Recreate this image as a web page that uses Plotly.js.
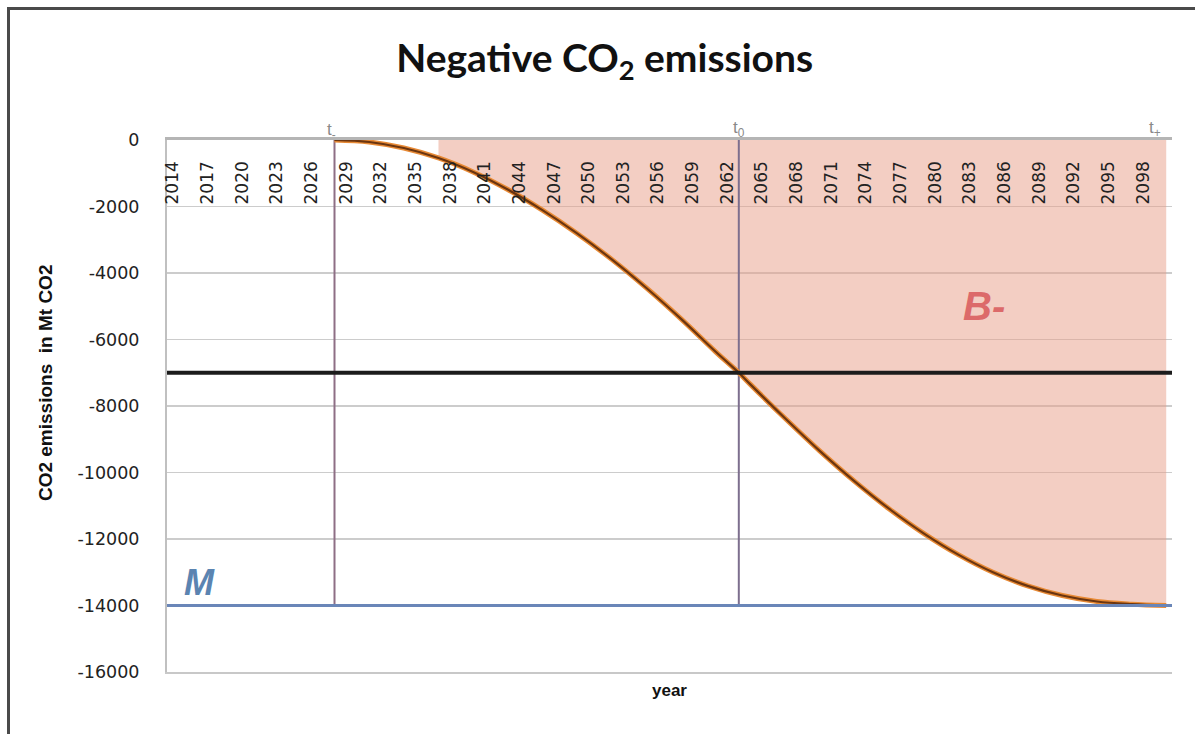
<!DOCTYPE html>
<html>
<head>
<meta charset="utf-8">
<script src="https://cdn.plot.ly/plotly-3.0.1.min.js"></script>
<style>
  html, body { margin: 0; padding: 0; background: #ffffff; }
  #wrap { position: relative; width: 1195px; height: 734px; overflow: hidden; }
  #chart { width: 1195px; height: 734px; }
  #frame { position: absolute; left: 7px; top: 7px; right: -10px; bottom: -10px;
           border-left: 3px solid #4a4a4a; border-top: 3px solid #4a4a4a; pointer-events: none; }
</style>
</head>
<body>
<div id="wrap">
  <div id="chart"></div>
  <div id="frame"></div>
</div>
<script>
// ---- data ----
const tickYears = [2014, 2017, 2020, 2023, 2026, 2029, 2032, 2035, 2038, 2041, 2044, 2047, 2050, 2053, 2056,
                   2059, 2062, 2065, 2068, 2071, 2074, 2077, 2080, 2083, 2086, 2089, 2092, 2095, 2098];
const tickYearLabels = ["2014", "2017", "2020", "2023", "2026", "2029", "2032", "2035", "2038", "2041",
                        "2044", "2047", "2050", "2053", "2056", "2059", "2062", "2065", "2068", "2071",
                        "2074", "2077", "2080", "2083", "2086", "2089", "2092", "2095", "2098"];

const curveYears  = [2028, 2031, 2034, 2037, 2040, 2043, 2046, 2049, 2052, 2055, 2058, 2061, 2063,
                     2064, 2067, 2070, 2073, 2076, 2079, 2082, 2085, 2088, 2091, 2094, 2097, 2100];
const curveValues = [0, -60, -240, -540, -960, -1490, -2110, -2810, -3590, -4450, -5380, -6370, -7000,
                     -7350, -8370, -9350, -10260, -11090, -11830, -12470, -13000, -13410, -13700, -13880, -13960, -14000];

const yTickVals   = [0, -2000, -4000, -6000, -8000, -10000, -12000, -14000, -16000];
const yTickLabels = ["0", "-2000", "-4000", "-6000", "-8000", "-10000", "-12000", "-14000", "-16000"];

const tMinus = 2028, tZero = 2063, tPlus = 2100;
const midLevel = -7000;      // black line
const maxLevel = -14000;     // M (blue line)
const shadeStart = 2037;
const xMin = 2013.5, xMax = 2100.5;
const yMin = -16000, yMax = 0;
const labelBandBottom = -2000;

// shaded part of curve (B-)
const shadeYears = curveYears.filter(y => y >= shadeStart);
const shadeVals = curveValues.filter((v, i) => curveYears[i] >= shadeStart);
const zeroVals = shadeYears.map(() => 0);

const traces = [
  { x: shadeYears, y: zeroVals, mode: 'lines', line: { width: 0, color: 'rgba(0,0,0,0)' },
    hoverinfo: 'skip', showlegend: false },
  { x: shadeYears, y: shadeVals, mode: 'lines', fill: 'tonexty', fillcolor: 'rgba(232,158,136,0.5)',
    line: { width: 0, shape: 'spline', color: 'rgba(0,0,0,0)' }, hoverinfo: 'skip', showlegend: false },
  { x: [xMin, xMax], y: [midLevel, midLevel], xaxis: 'x2', mode: 'lines', line: { color: '#1c1c1c', width: 3.8 }, showlegend: false },
  { x: [xMin, xMax], y: [maxLevel, maxLevel], xaxis: 'x3', mode: 'lines', line: { color: '#6a86b8', width: 3 }, showlegend: false },
  { x: [tMinus, tMinus], y: [0, maxLevel], mode: 'lines', line: { color: '#8e6f85', width: 2 }, showlegend: false },
  { x: [tZero, tZero], y: [0, maxLevel], mode: 'lines', line: { color: '#7d6f8e', width: 2 }, showlegend: false },
  { x: curveYears, y: curveValues, mode: 'lines', line: { color: '#e88a35', width: 5, shape: 'spline' }, showlegend: false },
  { x: curveYears, y: curveValues, mode: 'lines', line: { color: '#6b3510', width: 2.2, shape: 'spline' }, showlegend: false }
];

const bandPos = (labelBandBottom - yMin) / (yMax - yMin);

const layout = {
  width: 1195, height: 734,
  margin: { l: 167, r: 23, t: 140, b: 62 },
  paper_bgcolor: 'rgba(0,0,0,0)', plot_bgcolor: '#ffffff',
  font: { family: 'Liberation Sans, Arial, sans-serif', color: '#222' },
  title: { text: 'Negative CO<sub>2</sub> emissions', x: 0.506, xanchor: 'center', y: 0.921, yanchor: 'middle',
           font: { family: 'Lato, sans-serif', size: 39, weight: 'bold', color: '#111' } },
  xaxis: {
    type: 'linear', range: [xMin, xMax], side: 'bottom', anchor: 'y',
    showticklabels: false, ticks: '', showgrid: false, zeroline: false,
    showline: true, linecolor: '#c8c8c8', linewidth: 1.5
  },
  xaxis2: {
    type: 'linear', range: [xMin, xMax], overlaying: 'x', anchor: 'free', position: bandPos, side: 'top',
    tickmode: 'array', tickvals: tickYears, ticktext: tickYearLabels,
    tickangle: -90, ticks: '', ticklabelstandoff: 2,
    tickfont: { family: 'DejaVu Sans, sans-serif', size: 17, color: '#222' },
    showgrid: false, zeroline: false, showline: false
  },
  xaxis3: {
    type: 'linear', range: [xMin, xMax], overlaying: 'x', anchor: 'y', side: 'top',
    showticklabels: false, ticks: '', showgrid: false, zeroline: false,
    showline: true, linecolor: '#b5b5b5', linewidth: 3
  },
  yaxis: {
    range: [yMin, yMax], tickmode: 'array', tickvals: yTickVals, ticktext: yTickLabels,
    tickfont: { family: 'DejaVu Sans, sans-serif', size: 17.5, color: '#222' }, ticks: '', ticklabelstandoff: 22,
    showgrid: true, gridcolor: '#cccccc', gridwidth: 1.5, zeroline: false,
    showline: true, linecolor: '#c0c0c0', linewidth: 2
  },
  annotations: [
    { x: -0.1214, y: 0.545, xref: 'paper', yref: 'paper', text: 'CO2 emissions  in Mt CO2', textangle: -90,
      showarrow: false, xanchor: 'center', yanchor: 'middle',
      font: { size: 19, weight: 'bold', color: '#111' } },
    { x: 0.5, y: -0.034, xref: 'paper', yref: 'paper', text: 'year', showarrow: false,
      font: { size: 17, weight: 'bold', color: '#111' }, xanchor: 'center', yanchor: 'middle' },
    { x: tMinus - 0.3, y: 1, xref: 'x', yref: 'paper', yshift: 22, text: 't<sub>-</sub>', showarrow: false,
      font: { size: 17, color: '#8a8a8a' } },
    { x: tZero, y: 1, xref: 'x', yref: 'paper', yshift: 24, text: 't<sub>0</sub>', showarrow: false,
      font: { size: 17, color: '#8a8a8a' } },
    { x: tPlus - 1, y: 1, xref: 'x', yref: 'paper', yshift: 24, text: 't<sub>+</sub>', showarrow: false,
      font: { size: 17, color: '#8a8a8a' } },
    { x: 2084.2, y: -5000, xref: 'x', yref: 'y', text: '<b><i>B-</i></b>', showarrow: false,
      font: { size: 40, color: '#dc6a6a' } },
    { x: 2016.3, y: -13300, xref: 'x', yref: 'y', text: '<b><i>M</i></b>', showarrow: false,
      font: { size: 36, color: '#5b84b1' } }
  ]
};

Plotly.newPlot('chart', traces, layout, { displayModeBar: false, staticPlot: true });
</script>
</body>
</html>
